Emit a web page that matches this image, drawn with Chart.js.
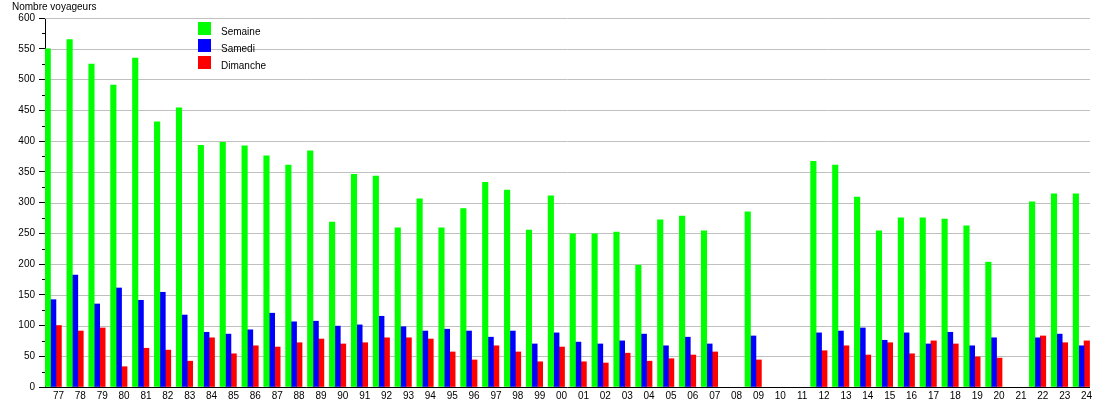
<!DOCTYPE html>
<html>
<head>
<meta charset="utf-8">
<script src="https://cdn.jsdelivr.net/npm/chart.js@4/dist/chart.umd.min.js"></script>
<style>
  body { margin: 0; background: #fff; }
  canvas { display: block; }
</style>
</head>
<body>
<canvas id="chart" width="1110" height="400"></canvas>
<script>
// Data
const years = ["77", "78", "79", "80", "81", "82", "83", "84", "85", "86", "87", "88", "89", "90", "91", "92", "93", "94", "95", "96", "97", "98", "99",
    "00", "01", "02", "03", "04", "05", "06", "07", "08", "09", "10", "11", "12", "13", "14", "15", "16", "17", "18", "19", "20", "21", "22", "23", "24"];
const semaine = [550, 565, 525, 491, 535, 431, 454, 393, 398, 392, 376, 361, 384, 268, 346, 343, 259, 306, 259, 290, 333, 320, 255,
    311, 249, 249, 252, 198, 272, 278, 254, null, 285, null, null, 367, 361, 309, 254, 275, 275, 273, 262, 203, null, 301, 314, 314];
const samedi = [142, 182, 135, 161, 141, 154, 117, 89, 86, 93, 120, 106, 107, 99, 101, 115, 98, 91, 94, 91, 81, 91, 70,
    88, 73, 70, 75, 86, 67, 81, 70, null, 83, null, null, 88, 91, 96, 76, 88, 70, 89, 67, 80, null, 80, 86, 67];
const dimanche = [100, 91, 96, 33, 63, 60, 42, 80, 54, 67, 65, 72, 78, 70, 72, 80, 80, 78, 57, 44, 67, 57, 41,
    65, 41, 39, 55, 42, 46, 52, 57, null, 44, null, null, 59, 67, 52, 72, 54, 75, 70, 49, 47, null, 83, 72, 75];
const yTicks = [0, 50, 100, 150, 200, 250, 300, 350, 400, 450, 500, 550, 600];
const yTitle = "Nombre voyageurs";

const fontFamily = "'Liberation Sans', Arial, sans-serif";
const canvas = document.getElementById("chart");

// empty 4th slot keeps the bar group on the left of each category
const spacer = years.map(() => null);

// the original frame stops a few px before the last category ends
const frameTrim = 5;

// Plugins
const axisTitle = {
    id: "axisTitle",
    afterDraw(chart) {
        const ctx = chart.ctx;
        ctx.save();
        ctx.font = "10px " + fontFamily;
        ctx.fillStyle = "#000";
        ctx.textAlign = "left";
        ctx.textBaseline = "alphabetic";
        ctx.fillText(yTitle, 12, 10);
        ctx.restore();
    }
};

const frame = {
    id: "frame",
    beforeDatasetsDraw(chart) {
        const ctx = chart.ctx;
        const y = chart.scales.y;
        const area = chart.chartArea;
        ctx.save();
        ctx.strokeStyle = "#c0c0c0";
        ctx.lineWidth = 1;
        yTicks.forEach(v => {
            let py = Math.round(y.getPixelForValue(v)) + 0.5;
            ctx.beginPath();
            ctx.moveTo(area.left, py);
            ctx.lineTo(area.right - frameTrim, py);
            ctx.stroke();
        });
        ctx.restore();
    },
    afterDraw(chart) {
        const ctx = chart.ctx;
        const y = chart.scales.y;
        const area = chart.chartArea;
        ctx.save();
        ctx.strokeStyle = "#000";
        ctx.lineWidth = 1;
        // x axis line
        let py = Math.round(area.bottom) + 0.5;
        ctx.beginPath();
        ctx.moveTo(area.left, py);
        ctx.lineTo(area.right - frameTrim, py);
        ctx.stroke();
        // minor ticks on y axis
        for (let i = 0; i < yTicks.length - 1; i++) {
            py = Math.round(y.getPixelForValue((yTicks[i] + yTicks[i + 1]) / 2)) + 0.5;
            ctx.beginPath();
            ctx.moveTo(y.right - 3, py);
            ctx.lineTo(y.right, py);
            ctx.stroke();
        }
        ctx.restore();
    }
};

const insideLegend = {
    id: "insideLegend",
    afterDraw(chart) {
        const ctx = chart.ctx;
        let top = 22;
        ctx.save();
        ctx.font = "10px " + fontFamily;
        ctx.textAlign = "left";
        ctx.textBaseline = "alphabetic";
        chart.data.datasets.forEach(ds => {
            if (!ds.label) {
                return;
            }
            ctx.fillStyle = ds.backgroundColor;
            ctx.fillRect(198, top, 13, 13);
            ctx.fillStyle = "#000";
            ctx.fillText(ds.label, 221, top + 13);
            top += 17;
        });
        ctx.restore();
    }
};

new Chart(canvas, {
    type: "bar",
    data: {
        labels: years,
        datasets: [
            { label: "Semaine", data: semaine, backgroundColor: "#00ff00" },
            { label: "Samedi", data: samedi, backgroundColor: "#0000ff" },
            { label: "Dimanche", data: dimanche, backgroundColor: "#ff0000" },
            { label: "", data: spacer, backgroundColor: "rgba(0,0,0,0)" }
        ]
    },
    options: {
        responsive: false,
        animation: false,
        layout: { padding: { top: 18, right: 15, left: 0, bottom: 0 } },
        datasets: {
            bar: { categoryPercentage: 1.0, barPercentage: 1.0, borderWidth: 0 }
        },
        plugins: {
            legend: { display: false },
            tooltip: { enabled: false },
            title: { display: false }
        },
        scales: {
            x: {
                grid: { display: false, drawTicks: false, tickLength: 0 },
                border: { display: false },
                ticks: {
                    color: "#000",
                    font: { family: fontFamily, size: 10 },
                    autoSkip: false,
                    maxRotation: 0,
                    labelOffset: 2.5,
                    padding: 3
                },
                afterFit(scale) { scale.height = 13; }
            },
            y: {
                min: 0,
                max: 600,
                afterBuildTicks(scale) { scale.ticks = yTicks.map(v => ({ value: v })); },
                grid: { drawOnChartArea: false, tickColor: "#000", tickLength: 6, lineWidth: 1 },
                border: { display: true, color: "#000", width: 1 },
                ticks: {
                    color: "#000",
                    font: { family: fontFamily, size: 10 },
                    padding: 4
                },
                afterFit(scale) { scale.width = 45; }
            }
        }
    },
    plugins: [axisTitle, frame, insideLegend]
});
</script>
</body>
</html>
